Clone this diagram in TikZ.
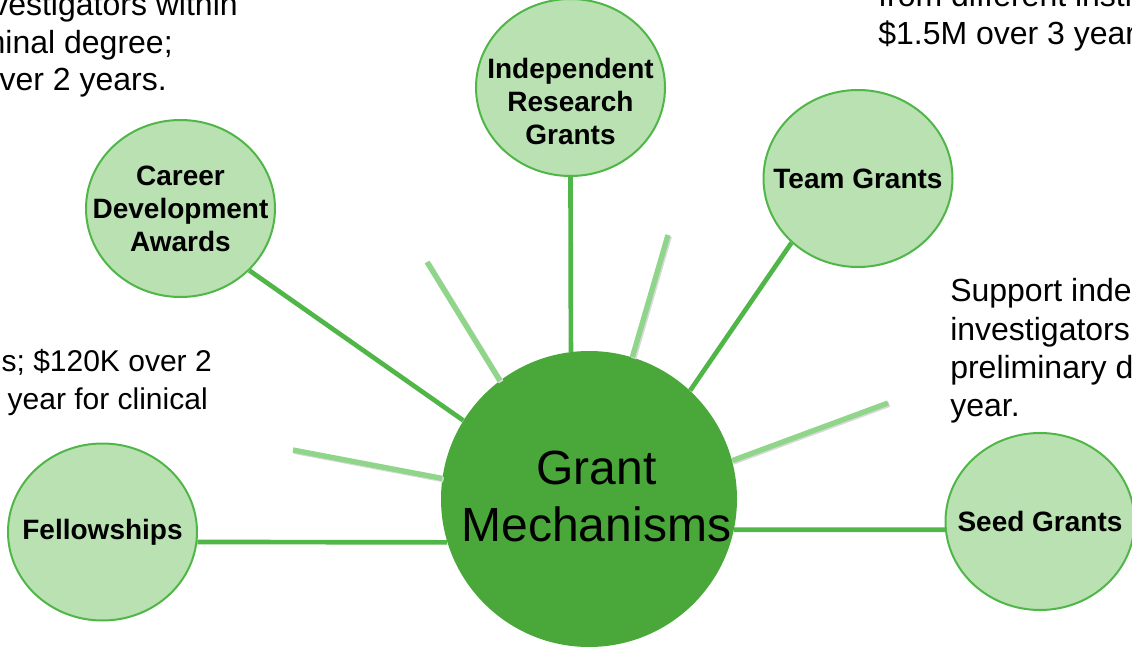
\documentclass[tikz,border=0pt]{standalone}
\usepackage{fontspec}
\setmainfont{Liberation Sans}
\usetikzlibrary{shapes.geometric}
\definecolor{hubgreen}{RGB}{74,168,59}
\definecolor{linkgreen}{RGB}{80,182,72}
\definecolor{bubblefill}{RGB}{185,225,178}
\definecolor{raygreen}{RGB}{143,213,138}
\tikzset{
	bubtext/.style={align=center, inner sep=0pt, font=\fontsize{21}{24.75}\selectfont\bfseries},
	bubble/.style={bubtext, ellipse, draw=linkgreen, line width=1.5pt, fill=bubblefill, inner xsep=-30pt, inner ysep=-20pt, minimum width=141.75pt, minimum height=132.75pt},
	hub/.style={circle, fill=hubgreen, minimum size=222pt, inner sep=0pt},
	hubtext/.style={align=center, inner sep=0pt, font=\fontsize{36}{43}\selectfont},
	link/.style={draw=linkgreen, line width=3.5pt},
	ray/.style={draw=raygreen, line width=4pt, preaction={draw=black!15, line width=4pt, transform canvas={xshift=1pt, yshift=-1pt}}},
	note/.style={inner sep=0pt, font=\fontsize{24}{28.5}\selectfont},
}
\begin{document}
\begin{tikzpicture}[x=0.75pt, y=-0.75pt]
	\useasboundingbox (0,0) rectangle (1132,649);
	\clip (0,0) rectangle (1132,649);
	
	\node[note, anchor=base east] (cda-note-1) at (238,16) {investigators within};
	\node[note, anchor=base east] (cda-note-2) at (173,53.5) {terminal degree;};
	\node[note, anchor=base east] (cda-note-3) at (167,91) {over 2 years.};
	
	\node[note, font=\fontsize{22.5}{28.5}\selectfont, anchor=base east] (fel-note-1) at (212,371) {s; \$120K over 2};
	\node[note, font=\fontsize{22.5}{28.5}\selectfont, anchor=base east] (fel-note-2) at (208,409) {year for clinical};
	
	\node[note, anchor=base west] (team-note-1) at (878,7) {from different institutions};
	\node[note, anchor=base west] (team-note-2) at (878,45) {\$1.5M over 3 years.};
	
	\node[note, anchor=base west] (seed-note-1) at (950,301.7) {Support independent};
	\node[note, anchor=base west] (seed-note-2) at (950,340) {investigators};
	\node[note, anchor=base west] (seed-note-3) at (950,378.3) {preliminary data};
	\node[note, anchor=base west] (seed-note-4) at (950,416.7) {year.};
	
	\coordinate (ray-a) at (427,262);
	\coordinate (ray-b) at (668,235);
	\coordinate (ray-c) at (293,450);
	\coordinate (ray-d) at (888,403);
	
	\node[hub] (gm) at (589,499) {};
	\node[hubtext] (gm-text) at ([xshift=5.5pt, yshift=2pt]gm.center) {Grant\\Mechanisms};
	
	\node[bubble] (irg) at (570.5,87.5) {};
	\node[bubtext] (irg-text) at ([yshift=-10.5pt]irg.center) {Independent\\Research\\Grants};
	\node[bubble] (cda) at (180.5,208.5) {Career\\Development\\Awards};
	\node[bubble] (team) at (858,178.5) {Team Grants};
	\node[bubble] (fel) at (102.5,532) {Fellowships};
	\node[bubble] (seed) at (1040,521.5) {Seed Grants};
	
	\draw[link] (irg.south) -- (gm.97);
	\draw[link] (cda.-42) -- (gm.148);
	\draw[link] (team.-136) -- (gm.47);
	\draw[link] (fel.-6) -- (gm.197);
	\draw[link] (gm.-12) -- (seed.185);
	
	\draw[ray] (gm.127) -- (ray-a);
	\draw[ray] (gm.73) -- (ray-b);
	\draw[ray] (gm.172) -- (ray-c);
	\draw[ray] (gm.15) -- (ray-d);
\end{tikzpicture}
\end{document}
